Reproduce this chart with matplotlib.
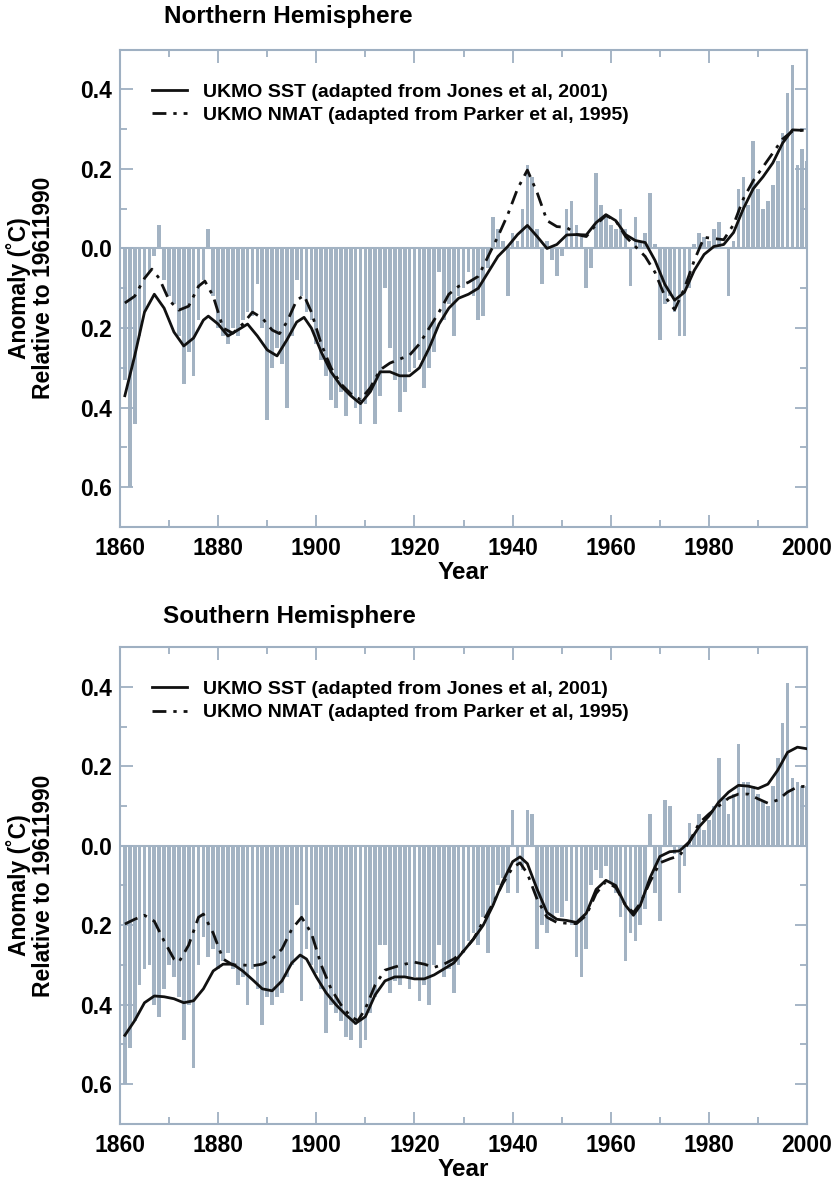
import numpy as np
import matplotlib.pyplot as plt
from matplotlib.ticker import MultipleLocator, FuncFormatter

plt.rcParams['font.family'] = ['Liberation Sans', 'DejaVu Sans']
plt.rcParams['font.weight'] = 'bold'

years = np.arange(1861, 2001)

# annual anomalies (bars)
nh_annual = [
    -0.33, -0.60, -0.44, -0.22, -0.16, -0.06, -0.02, 0.06, -0.08, -0.12,
    -0.14, -0.22, -0.34, -0.26, -0.32, -0.18, -0.08, 0.05, -0.12, -0.20,
    -0.22, -0.24, -0.20, -0.22, -0.18, -0.16, -0.17, -0.09, -0.20, -0.43,
    -0.30, -0.25, -0.29, -0.40, -0.22, -0.08, -0.12, -0.16, -0.18, -0.24,
    -0.28, -0.32, -0.38, -0.40, -0.36, -0.42, -0.37, -0.40, -0.44, -0.39,
    -0.36, -0.44, -0.37, -0.10, -0.25, -0.33, -0.41, -0.36, -0.31, -0.30,
    -0.28, -0.35, -0.30, -0.26, -0.06, -0.18, -0.14, -0.22, -0.12, -0.10,
    -0.06, -0.12, -0.18, -0.17, -0.05, 0.08, 0.05, 0.02, -0.12, 0.04,
    0.02, 0.10, 0.21, 0.18, 0.05, -0.09, 0.02, -0.03, -0.07, -0.02,
    0.10, 0.12, 0.06, 0.03, -0.10, -0.05, 0.19, 0.11, 0.08, 0.06,
    0.05, 0.10, 0.05, -0.095, 0.08, 0.02, 0.04, 0.14, 0.01, -0.23,
    -0.14, -0.12, -0.16, -0.22, -0.22, -0.10, 0.01, 0.04, 0.03, 0.02,
    0.05, 0.066, 0.0, -0.12, 0.02, 0.15, 0.18, 0.11, 0.27, 0.15,
    0.10, 0.12, 0.16, 0.22, 0.29, 0.39, 0.46, 0.21, 0.25, 0.22,
]
sh_annual = [
    -0.60, -0.51, -0.44, -0.35, -0.31, -0.30, -0.40, -0.43, -0.36, -0.30,
    -0.33, -0.38, -0.49, -0.40, -0.56, -0.30, -0.23, -0.28, -0.26, -0.31,
    -0.29, -0.27, -0.31, -0.35, -0.33, -0.40, -0.31, -0.36, -0.45, -0.38,
    -0.40, -0.38, -0.37, -0.33, -0.30, -0.15, -0.39, -0.26, -0.30, -0.32,
    -0.36, -0.47, -0.40, -0.42, -0.44, -0.48, -0.49, -0.45, -0.51, -0.49,
    -0.42, -0.38, -0.25, -0.25, -0.37, -0.34, -0.35, -0.33, -0.36, -0.33,
    -0.39, -0.35, -0.40, -0.30, -0.25, -0.33, -0.31, -0.37, -0.30, -0.27,
    -0.24, -0.22, -0.25, -0.18, -0.27, -0.15, -0.10, -0.08, -0.12, 0.09,
    -0.12, -0.06, 0.09, 0.08, -0.26, -0.20, -0.22, -0.19, -0.17, -0.18,
    -0.14, -0.20, -0.28, -0.33, -0.26, -0.10, -0.06, -0.08, -0.05, -0.09,
    -0.12, -0.18, -0.29, -0.22, -0.24, -0.20, -0.16, 0.08, -0.12, -0.19,
    0.115, 0.10, -0.02, -0.12, -0.05, 0.057, 0.03, 0.08, 0.04, 0.065,
    0.10, 0.22, 0.12, 0.08, 0.13, 0.257, 0.16, 0.16, 0.15, 0.13,
    0.11, 0.10, 0.15, 0.22, 0.31, 0.41, 0.17, 0.16, 0.15, 0.15,
]

# smoothed curves
nh_sst_yr = [1861, 1863, 1865, 1867, 1869, 1871, 1873, 1875, 1877, 1878, 1880, 1882, 1884, 1886,
             1888, 1890, 1892, 1894, 1896, 1897.5, 1899, 1901, 1903, 1905, 1907, 1909, 1911, 1913,
             1915, 1917, 1919, 1921, 1923, 1925, 1927, 1929, 1931, 1933, 1935, 1937, 1939, 1941,
             1943, 1945, 1947, 1949, 1951, 1953, 1955, 1957, 1959, 1961, 1963, 1965, 1967, 1969,
             1971, 1973, 1975, 1977, 1979, 1981, 1983, 1985, 1987, 1989, 1991, 1993, 1995, 1997, 1999]
nh_sst = [-0.37, -0.27, -0.16, -0.115, -0.15, -0.21, -0.245, -0.225, -0.18, -0.17, -0.19, -0.22,
          -0.205, -0.19, -0.22, -0.255, -0.27, -0.23, -0.185, -0.173, -0.2, -0.26, -0.31, -0.345,
          -0.37, -0.39, -0.36, -0.31, -0.31, -0.32, -0.32, -0.3, -0.25, -0.19, -0.15, -0.125,
          -0.115, -0.1, -0.06, -0.02, 0.005, 0.035, 0.058, 0.03, 0.0, 0.01, 0.034, 0.035, 0.034,
          0.065, 0.085, 0.07, 0.035, 0.02, 0.015, -0.03, -0.09, -0.13, -0.11, -0.055, -0.015,
          0.005, 0.01, 0.04, 0.1, 0.15, 0.18, 0.215, 0.265, 0.298, 0.297]

nh_nmat_yr = [1861, 1863, 1865, 1866.5, 1868, 1870, 1872, 1874, 1876, 1877.3, 1879, 1881, 1883,
              1885, 1887, 1889, 1891, 1892.5, 1894, 1896, 1897.5, 1899, 1901, 1903, 1905, 1907,
              1909, 1911, 1913, 1915, 1917, 1919, 1921, 1923, 1925, 1927, 1929, 1931, 1933, 1935,
              1937, 1939, 1941, 1943, 1945, 1947, 1949, 1951, 1953, 1955, 1957, 1959, 1961, 1963,
              1965, 1967, 1969, 1971, 1973, 1975, 1977, 1979, 1981, 1983, 1985, 1987, 1989, 1991,
              1993, 1995, 1997, 1999]
nh_nmat = [-0.137, -0.12, -0.075, -0.052, -0.075, -0.13, -0.155, -0.145, -0.095, -0.082, -0.12,
           -0.2, -0.213, -0.19, -0.16, -0.175, -0.205, -0.214, -0.185, -0.13, -0.118, -0.16, -0.24,
           -0.3, -0.34, -0.365, -0.38, -0.35, -0.305, -0.288, -0.278, -0.268, -0.24, -0.2, -0.16,
           -0.115, -0.095, -0.085, -0.07, -0.02, 0.03, 0.085, 0.15, 0.197, 0.14, 0.07, 0.055,
           0.053, 0.035, 0.03, 0.06, 0.083, 0.07, 0.03, 0.005, -0.02, -0.06, -0.12, -0.154, -0.1,
           -0.03, 0.028, 0.025, 0.022, 0.06, 0.125, 0.17, 0.205, 0.24, 0.275, 0.295, 0.297]

sh_sst_yr = [1861, 1863, 1865, 1867, 1869, 1871, 1873, 1875, 1877, 1879, 1881, 1883, 1885, 1887,
             1889, 1891, 1893, 1895, 1896.7, 1898, 1900, 1902, 1904, 1906, 1908, 1910, 1912, 1914,
             1916, 1918, 1920, 1922, 1924, 1926, 1928, 1930, 1932, 1934, 1936, 1938, 1940, 1941.5,
             1943, 1945, 1947, 1949, 1951, 1953, 1955, 1957, 1959, 1961, 1963, 1964.6, 1966, 1968,
             1970, 1972, 1974, 1976, 1978, 1980, 1982, 1984, 1986, 1988, 1990, 1992, 1994, 1996,
             1998, 2000]
sh_sst = [-0.477, -0.44, -0.395, -0.378, -0.38, -0.385, -0.395, -0.39, -0.36, -0.315, -0.298,
          -0.298, -0.315, -0.337, -0.36, -0.365, -0.34, -0.295, -0.275, -0.285, -0.33, -0.37, -0.4,
          -0.425, -0.447, -0.43, -0.375, -0.34, -0.33, -0.33, -0.335, -0.335, -0.325, -0.31,
          -0.295, -0.265, -0.235, -0.2, -0.15, -0.09, -0.04, -0.028, -0.045, -0.11, -0.168,
          -0.185, -0.188, -0.193, -0.17, -0.11, -0.087, -0.1, -0.15, -0.175, -0.15, -0.08, -0.027,
          -0.015, -0.013, 0.01, 0.048, 0.075, 0.11, 0.135, 0.152, 0.15, 0.144, 0.155, 0.19, 0.235,
          0.248, 0.244]

sh_nmat_yr = [1861, 1863, 1865, 1867, 1869, 1871, 1872, 1874, 1876, 1877, 1879, 1881, 1883, 1885,
              1887, 1889, 1891, 1893, 1895, 1897, 1899, 1901, 1903, 1905, 1907, 1908.5, 1910, 1912,
              1914, 1916, 1918, 1920, 1922, 1924, 1926, 1928, 1930, 1932, 1934, 1936, 1938, 1940,
              1941.5, 1943, 1945, 1947, 1949, 1951, 1953, 1955, 1957, 1959, 1961, 1963, 1964.6,
              1966, 1968, 1970, 1972, 1974, 1976, 1978, 1980, 1982, 1984, 1986, 1988, 1990, 1992,
              1994, 1996, 1998, 2000]
sh_nmat = [-0.197, -0.185, -0.175, -0.19, -0.24, -0.285, -0.293, -0.25, -0.18, -0.172, -0.22,
           -0.285, -0.3, -0.3, -0.302, -0.298, -0.285, -0.26, -0.21, -0.18, -0.22, -0.3, -0.36,
           -0.4, -0.43, -0.44, -0.41, -0.35, -0.313, -0.305, -0.298, -0.293, -0.298, -0.306,
           -0.298, -0.285, -0.265, -0.235, -0.19, -0.145, -0.095, -0.055, -0.043, -0.07, -0.135,
           -0.18, -0.193, -0.195, -0.196, -0.175, -0.12, -0.09, -0.105, -0.15, -0.168, -0.145,
           -0.09, -0.043, -0.033, -0.025, 0.01, 0.057, 0.08, 0.1, 0.12, 0.13, 0.13, 0.118, 0.107,
           0.115, 0.135, 0.148, 0.15]

bar_color = '#a3b3c3'
axis_color = '#9fb0c2'
legend_labels = ['UKMO SST (adapted from Jones et al, 2001)',
                 'UKMO NMAT (adapted from Parker et al, 1995)']


def draw_panel(ax, annual, sst_x, sst, nmat_x, nmat):
    ax.bar(years, annual, width=0.75, color=bar_color, linewidth=0, zorder=1)
    ax.axhline(0, color=bar_color, lw=1.5, zorder=1)
    l1, = ax.plot(sst_x, sst, color='#111111', lw=2.0, zorder=3)
    l2, = ax.plot(nmat_x, nmat, color='#111111', lw=2.0, ls=(0, (5, 2.5, 1.2, 2.5)), zorder=3)
    ax.set_xlim(1860, 2000)
    ax.set_ylim(-0.7, 0.5)
    ax.xaxis.set_major_locator(MultipleLocator(20))
    ax.xaxis.set_minor_locator(MultipleLocator(10))
    ax.yaxis.set_major_locator(MultipleLocator(0.2))
    ax.yaxis.set_minor_locator(MultipleLocator(0.1))
    ax.yaxis.set_major_formatter(FuncFormatter(lambda v, p: '%.1f' % abs(v)))
    ax.set_yticks([-0.6, -0.4, -0.2, 0.0, 0.2, 0.4])
    ax.tick_params(which='both', direction='in', top=True, right=True,
                   color=axis_color, width=1.3, labelsize=16.5)
    ax.tick_params(which='major', length=9)
    ax.tick_params(which='minor', length=5)
    ax.tick_params(axis='x', pad=7)
    ax.tick_params(axis='y', pad=6)
    for s in ax.spines.values():
        s.set_color(axis_color)
        s.set_linewidth(1.5)
    ax.set_xlabel('Year', fontsize=17.5, fontweight='bold', labelpad=1)
    ax.legend([l1, l2], legend_labels, loc='upper left', bbox_to_anchor=(0.047, 0.93),
              frameon=False, fontsize=14, handlelength=1.8, handletextpad=0.8,
              labelspacing=0.3, borderpad=0, borderaxespad=0)


fig = plt.figure(figsize=(8.33, 11.79), dpi=100)
ax1 = fig.add_axes([0.144, 0.553, 0.825, 0.405])
ax2 = fig.add_axes([0.144, 0.0467, 0.825, 0.4045])

draw_panel(ax1, nh_annual, nh_sst_yr, nh_sst, nh_nmat_yr, nh_nmat)
draw_panel(ax2, sh_annual, sh_sst_yr, sh_sst, sh_nmat_yr, sh_nmat)

fig.text(0.346, 0.9856, 'Northern Hemisphere', fontsize=17.5, fontweight='bold', ha='center', va='center')
fig.text(0.348, 0.4767, 'Southern Hemisphere', fontsize=17.5, fontweight='bold', ha='center', va='center')

ylab = 'Anomaly (\u02daC)\nRelative to 19611990'
fig.text(0.037, 0.7555, ylab, fontsize=16.5, fontweight='bold', rotation=90,
         ha='center', va='center', linespacing=1.05, multialignment='center')
fig.text(0.037, 0.249, ylab, fontsize=16.5, fontweight='bold', rotation=90,
         ha='center', va='center', linespacing=1.05, multialignment='center')

fig.savefig('out.png', dpi=100)
